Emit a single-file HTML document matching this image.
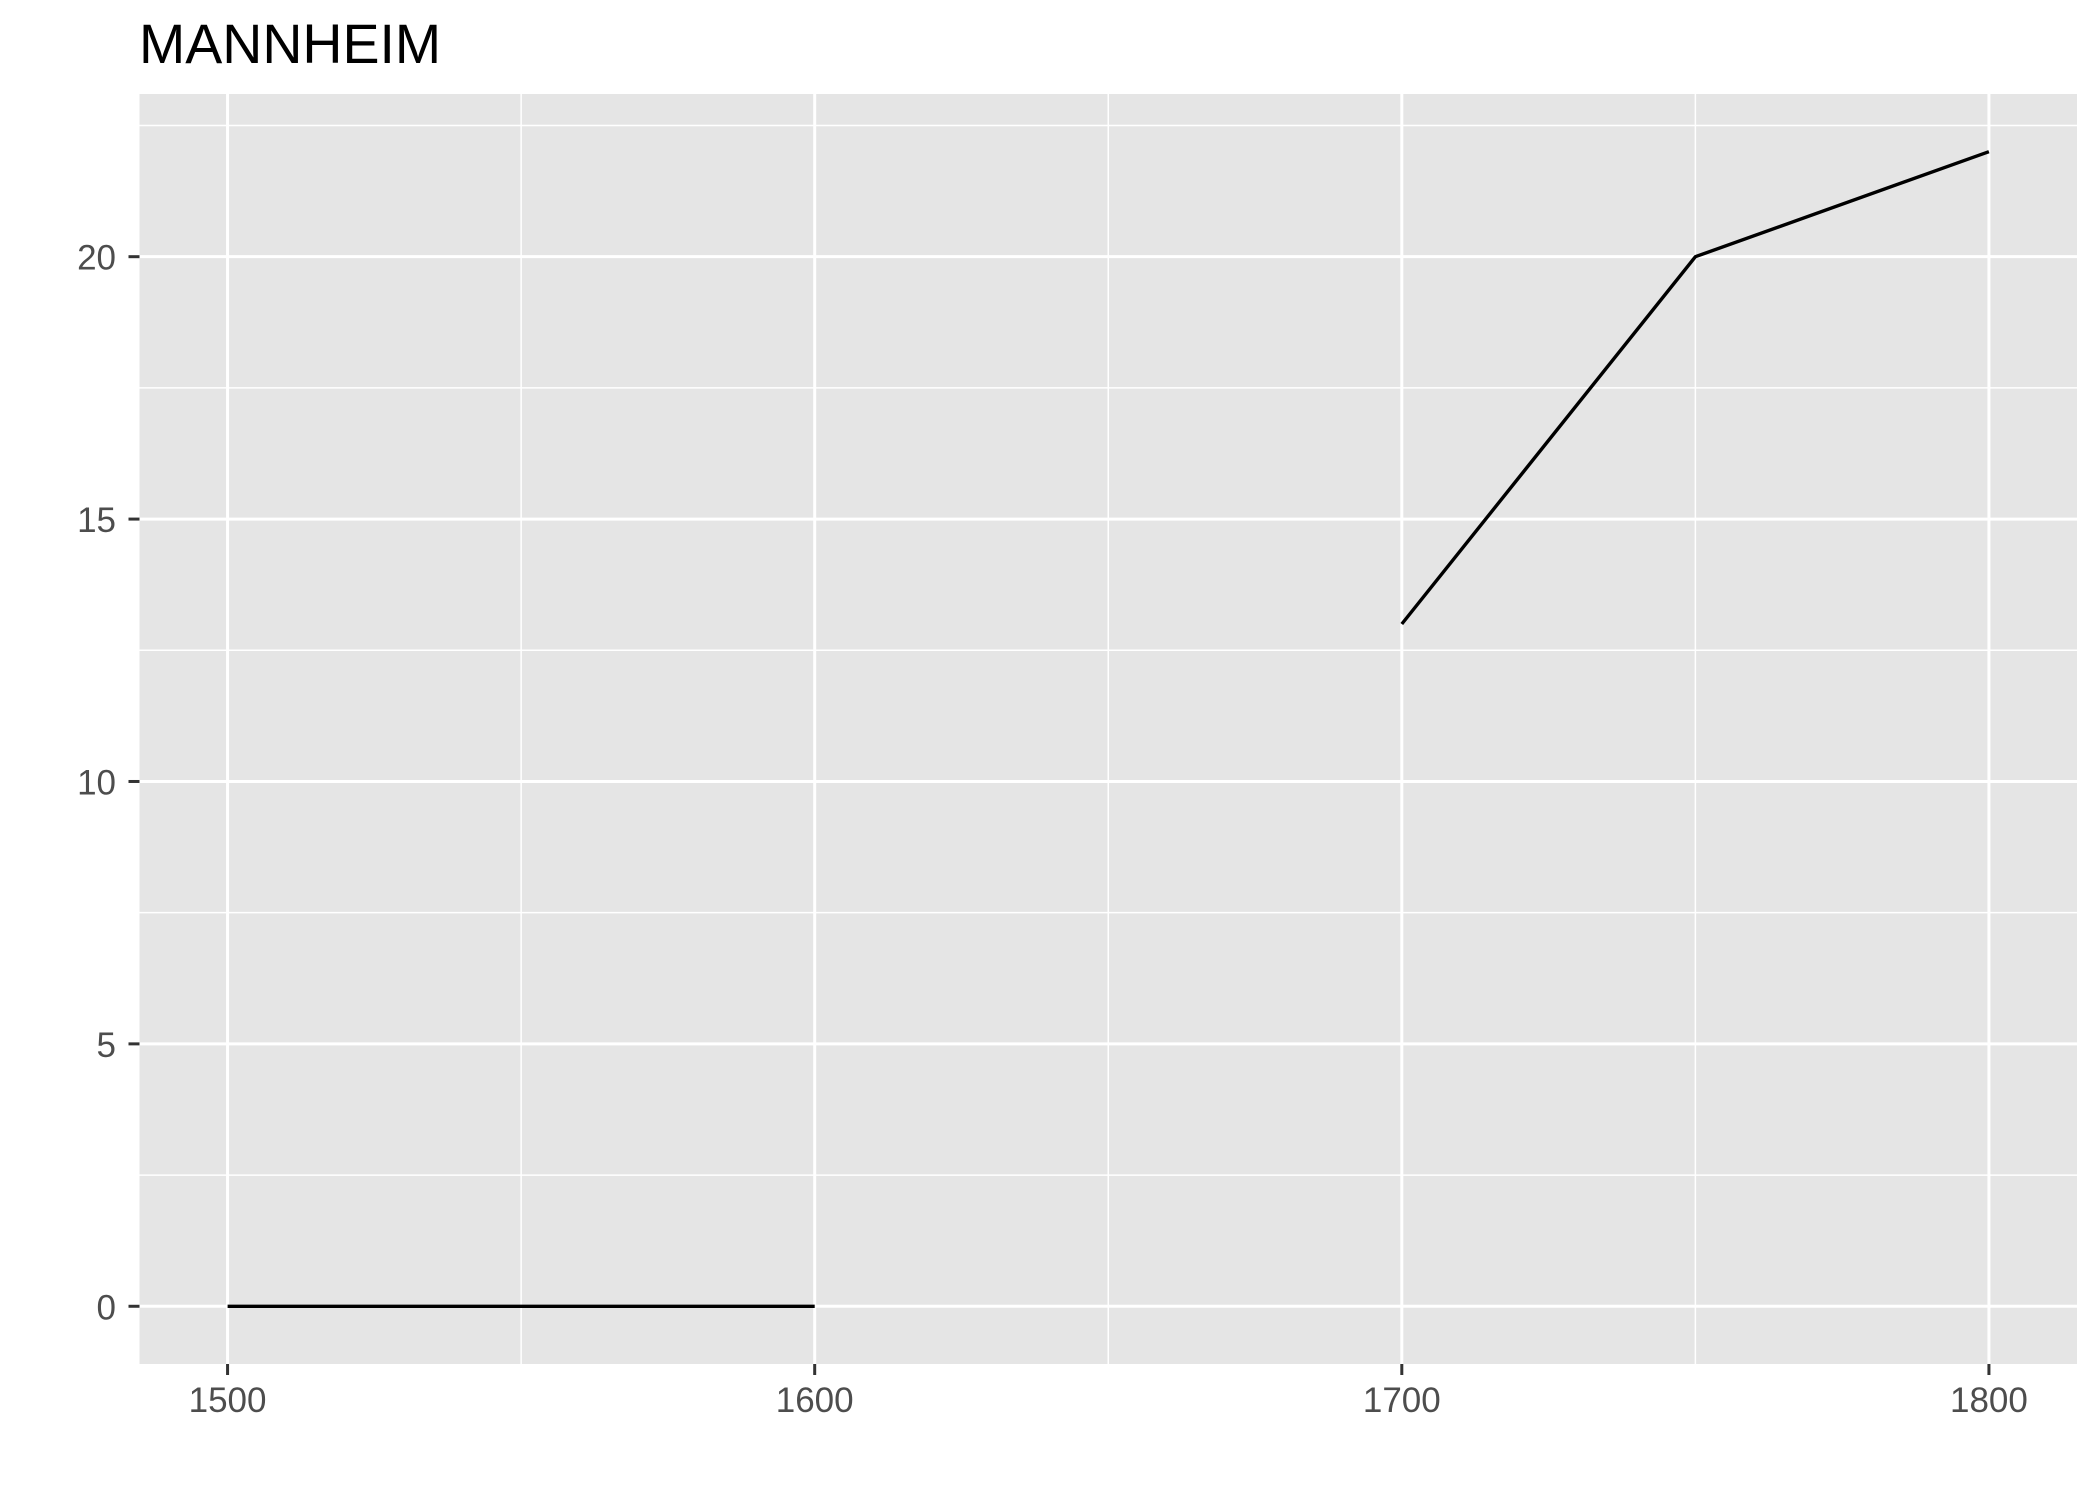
<!DOCTYPE html>
<html><head><meta charset="utf-8"><style>
html,body{margin:0;padding:0;background:#fff;}
svg{display:block;font-family:"Liberation Sans",Arial,sans-serif;}
</style></head><body>
<svg id="chart" width="2099" height="1499" viewBox="0 0 2099 1499" xmlns="http://www.w3.org/2000/svg">
<rect x="0" y="0" width="2099" height="1499" fill="#fff"/>
<text x="139" y="63" font-size="55.5" fill="#000">MANNHEIM</text>
<rect x="139.5" y="94" width="1937.5" height="1270" fill="#E5E5E5"/>
<g id="grid"></g>
<g id="axes"></g>
<g id="series"></g>
</svg>
<script>
const years = [1500, 1550, 1600, 1650, 1700, 1750, 1800];
const values = [0, 0, 0, null, 13, 20, 22];
const xTicks = [1500, 1600, 1700, 1800];
const xMinor = [1550, 1650, 1750];
const yTicks = [0, 5, 10, 15, 20];
const yMinor = [2.5, 7.5, 12.5, 17.5, 22.5];

const X0 = 139.5, X1 = 2077, Y0 = 94, Y1 = 1364;
const xmin = 1485, xmax = 1815, ymin = -1.1, ymax = 23.1;
function sx(v){ return X0 + (v - xmin) / (xmax - xmin) * (X1 - X0); }
function sy(v){ return Y1 - (v - ymin) / (ymax - ymin) * (Y1 - Y0); }
const NS = "http://www.w3.org/2000/svg";
function mk(tag, attrs, parent){ const e = document.createElementNS(NS, tag); for (const k in attrs) e.setAttribute(k, attrs[k]); parent.appendChild(e); return e; }
const grid = document.getElementById('grid'), axes = document.getElementById('axes'), series = document.getElementById('series');

yMinor.forEach(v => {
  const l = mk('line', {x1: X0, x2: X1, y1: sy(v), y2: sy(v), stroke: '#fff', 'stroke-width': 1.5}, grid);
  
  
});
xMinor.forEach(v => {
  const l = mk('line', {x1: sx(v), x2: sx(v), y1: Y0, y2: Y1, stroke: '#fff', 'stroke-width': 1.5}, grid);
  
  
});
yTicks.forEach(v => {
  const l = mk('line', {x1: X0, x2: X1, y1: sy(v), y2: sy(v), stroke: '#fff', 'stroke-width': 3}, grid);
  
  
  const t = mk('line', {x1: X0 - 11, x2: X0, y1: sy(v), y2: sy(v), stroke: '#333', 'stroke-width': 3}, axes);
  
  
  const tx = mk('text', {x: 116, y: sy(v) + 13, 'font-size': 35, fill: '#4D4D4D', 'text-anchor': 'end'}, axes);
  tx.textContent = v;
  
  
});
xTicks.forEach(v => {
  const l = mk('line', {x1: sx(v), x2: sx(v), y1: Y0, y2: Y1, stroke: '#fff', 'stroke-width': 3}, grid);
  
  
  const t = mk('line', {x1: sx(v), x2: sx(v), y1: Y1, y2: Y1 + 11, stroke: '#333', 'stroke-width': 3}, axes);
  
  
  const tx = mk('text', {x: sx(v), y: 1412, 'font-size': 35, fill: '#4D4D4D', 'text-anchor': 'middle'}, axes);
  tx.textContent = v;
  
  
});

let segs = [], cur = [];
years.forEach((yr, i) => {
  if (values[i] === null) { if (cur.length) segs.push(cur); cur = []; }
  else cur.push(sx(yr).toFixed(1) + ',' + sy(values[i]).toFixed(1));
});
if (cur.length) segs.push(cur);
segs.forEach(s => {
  const p = mk('polyline', {points: s.join(' '), fill: 'none', stroke: '#000', 'stroke-width': 3.4, 'stroke-linejoin': 'round'}, series);
  
  
});
</script>
</body></html>
